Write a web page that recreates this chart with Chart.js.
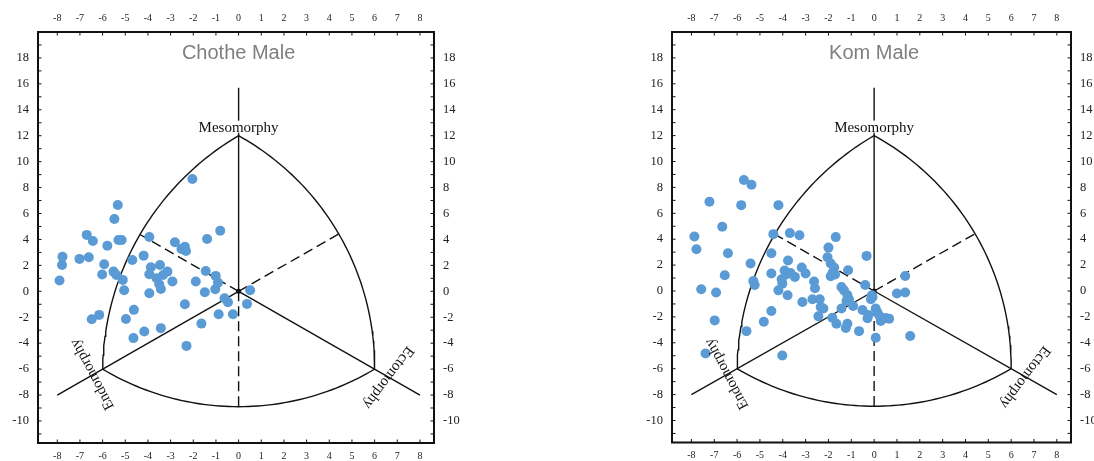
<!DOCTYPE html>
<html lang="en">
<head>
<meta charset="UTF-8">
<title>Somatochart - Chothe and Kom Male</title>
<script src="https://cdn.jsdelivr.net/npm/chart.js@4"></script>
<style>
  body { margin: 0; background: #fff; width: 1094px; height: 461px; overflow: hidden; position: relative; }
  .panel { position: absolute; top: 0; width: 547px; height: 461px; }
  #leftPanel { left: 0; }
  #rightPanel { left: 547px; }
</style>
</head>
<body>
<div class="panel" id="leftPanel"><canvas id="chotheChart" width="547" height="461"></canvas></div>
<div class="panel" id="rightPanel"><canvas id="komChart" width="547" height="461"></canvas></div>
<script>
// tick labels
const xTickLabels = [-8, -7, -6, -5, -4, -3, -2, -1, 0, 1, 2, 3, 4, 5, 6, 7, 8];
const yTickLabels = [-10, -8, -6, -4, -2, 0, 2, 4, 6, 8, 10, 12, 14, 16, 18];

// Chothe male somatoplots (x = ecto - endo, y = 2*meso - endo - ecto)
const chotheX = [-2.04, -5.33, -5.48, -6.70, -6.43, -5.79, -5.30, -5.16, -3.94, -2.81, -2.52, -2.37, -2.32, -1.39, -0.81,
  -7.77, -7.79, -7.90, -7.02, -6.61, -5.93, -6.02, -5.52, -5.39, -5.11, -5.05, -4.69, -4.19, -3.87, -3.47,
  -3.94, -3.62, -3.33, -3.14, -2.92, -3.50, -3.43, -3.94, -1.89, -1.45, -1.01, -0.91, -1.03, -1.49, -0.62,
  -0.47, 0.51, 0.37, -2.37, -0.88, -0.25, -1.64, -6.48, -6.15, -4.97, -4.62, -4.16, -3.43, -4.64, -2.30];
const chotheY = [8.66, 6.66, 5.58, 4.35, 3.88, 3.52, 3.96, 3.96, 4.19, 3.78, 3.27, 3.44, 3.11, 4.04, 4.68,
  2.67, 2.03, 0.83, 2.50, 2.63, 2.09, 1.29, 1.52, 1.26, 0.88, 0.08, 2.42, 2.75, 1.86, 2.03,
  1.32, 1.01, 1.26, 1.52, 0.75, 0.55, 0.18, -0.15, 0.75, 1.57, 1.19, 0.67, 0.16, -0.07, -0.53,
  -0.84, 0.08, -0.97, -1.00, -1.77, -1.77, -2.49, -2.15, -1.82, -2.13, -1.43, -3.10, -2.84, -3.61, -4.21];

// Kom male somatoplots
const komX = [-5.70, -5.37, -7.21, -5.82, -4.19, -6.65, -7.87, -7.78, -6.40, -5.41, -6.54, -7.57, -6.92, -5.29, -5.23,
  -6.98, -5.59, -7.38, -4.02, -4.41, -3.69, -3.27, -4.50, -3.77, -4.50, -3.92, -3.83, -3.66, -3.47, -4.05,
  -4.02, -4.19, -3.79, -3.17, -3.00, -3.14, -2.70, -2.38, -2.34, -2.22, -2.63, -2.59, -4.50, -4.83, -2.44,
  -1.68, -2.00, -2.04, -1.90, -1.75, -1.82, -1.71, -1.90, -1.14, -0.33, -1.43, -1.32, -1.17, -1.10, -1.21,
  -0.92, -1.43, -1.83, -1.65, -1.17, -1.24, -0.66, -0.51, -0.29, -0.25, -0.39, -0.10, -0.14, -0.07, 0.07,
  0.15, 0.25, 0.40, 0.51, 0.66, 0.29, 0.07, 1.36, 1.00, 1.36, 1.58];
const komY = [8.57, 8.20, 6.89, 6.63, 6.63, 4.96, 4.21, 3.23, 2.92, 2.12, 1.22, 0.13, -0.12, 0.77, 0.46,
  -2.27, -3.10, -4.82, -4.98, 4.39, 4.47, 4.31, 2.92, 2.35, 1.35, 1.58, 1.29, 1.39, 1.09, 0.91,
  0.57, 0.05, -0.33, 1.81, 1.35, -0.85, -0.64, -0.64, -1.24, -1.35, 0.73, 0.21, -1.55, -2.37, -1.96,
  4.16, 3.35, 2.61, 2.12, 1.81, 1.40, 1.27, 1.14, 1.60, 2.71, 0.31, 0.05, -0.31, -0.64, -0.77,
  -1.16, -1.35, -2.06, -2.53, -2.53, -2.86, -3.10, -1.47, -2.11, -1.86, 0.46, -0.33, -0.64, -0.46, -1.35,
  -1.69, -1.96, -2.14, -2.08, -2.14, -2.32, -3.61, 1.16, -0.20, -0.12, -3.48];

// somatochart frame (data units)
const mesoVertex = [0, 12], endoVertex = [-6, -6], ectoVertex = [6, -6];
const leftArcMid = [-4.35, 4.38], rightArcMid = [4.42, 4.42], bottomArcMid = [0, -8.9];
const solidAxisEnds = [[0, 15.7], [-8, -8], [8, -8]];

const xRange = [-8.85, 8.62], yRange = [-11.7, 20];
const dotColor = 'rgb(91,155,213)';

// arcs are circular on screen, so fit the circle in a y-squashed space
const SQUASH = 0.57;
function arcThrough(a, m, b, n) {
  const [ax, ay] = [a[0], a[1] * SQUASH], [bx, by] = [m[0], m[1] * SQUASH], [cx, cy] = [b[0], b[1] * SQUASH];
  const d = 2 * (ax * (by - cy) + bx * (cy - ay) + cx * (ay - by));
  const ux = ((ax*ax + ay*ay) * (by - cy) + (bx*bx + by*by) * (cy - ay) + (cx*cx + cy*cy) * (ay - by)) / d;
  const uy = ((ax*ax + ay*ay) * (cx - bx) + (bx*bx + by*by) * (ax - cx) + (cx*cx + cy*cy) * (bx - ax)) / d;
  const r = Math.hypot(ax - ux, ay - uy);
  const norm = t => ((t % (2 * Math.PI)) + 2 * Math.PI) % (2 * Math.PI);
  const t0 = Math.atan2(ay - uy, ax - ux);
  let span = norm(Math.atan2(cy - uy, cx - ux) - t0);
  if (norm(Math.atan2(by - uy, bx - ux) - t0) > span) span -= 2 * Math.PI;
  const pts = [];
  for (let i = 0; i <= n; i++) {
    const t = t0 + span * i / n;
    pts.push({ x: ux + r * Math.cos(t), y: (uy + r * Math.sin(t)) / SQUASH });
  }
  return pts;
}

function lineSet(points, dash) {
  return {
    data: points, showLine: true, pointRadius: 0, borderColor: '#111', borderWidth: 1.4,
    borderDash: dash || [], tension: 0, order: 1
  };
}

const decor = {
  id: 'somatoDecor',
  beforeDatasetsDraw(chart) {
    const { ctx, chartArea: a } = chart;
    ctx.save();
    ctx.strokeStyle = '#111';
    ctx.lineWidth = 1;
    // inward tick marks
    Object.values(chart.scales).forEach(s => {
      s.ticks.forEach(t => {
        const p = s.getPixelForValue(t.value);
        ctx.beginPath();
        if (s.position === 'top') { ctx.moveTo(p, a.top); ctx.lineTo(p, a.top + 3.5); }
        else if (s.position === 'bottom') { ctx.moveTo(p, a.bottom); ctx.lineTo(p, a.bottom - 3.5); }
        else if (s.position === 'left') { ctx.moveTo(a.left, p); ctx.lineTo(a.left + 3.5, p); }
        else { ctx.moveTo(a.right, p); ctx.lineTo(a.right - 3.5, p); }
        ctx.stroke();
      });
    });
    ctx.lineWidth = 2;
    ctx.strokeRect(a.left, a.top, a.right - a.left, a.bottom - a.top);
    ctx.restore();
  },
  afterDatasetsDraw(chart, args, opts) {
    const { ctx, chartArea: a, scales: { x, y } } = chart;
    const px = v => x.getPixelForValue(v), py = v => y.getPixelForValue(v);
    ctx.save();
    ctx.font = '20px "Liberation Sans", Arial, sans-serif';
    ctx.fillStyle = '#7f7f7f';
    ctx.textAlign = 'center';
    ctx.textBaseline = 'alphabetic';
    ctx.fillText(opts.title, px(0), a.top + 27);

    ctx.font = '15px "Liberation Serif", "Times New Roman", serif';
    const w = ctx.measureText('Mesomorphy').width;
    ctx.fillStyle = '#fff';
    ctx.fillRect(px(0) - w / 2 - 1, py(12) - 15, w + 2, 12);
    ctx.fillStyle = '#111';
    ctx.fillText('Mesomorphy', px(0), py(12) - 4);

    ctx.textBaseline = 'middle';
    ctx.save();
    ctx.translate(px(-6.45), py(-6.4));
    ctx.rotate(-118 * Math.PI / 180);
    ctx.fillText('Endomorphy', 0, 0);
    ctx.restore();
    ctx.save();
    ctx.translate(px(6.6), py(-6.65));
    ctx.rotate(127 * Math.PI / 180);
    ctx.fillText('Ectomorphy', 0, 0);
    ctx.restore();
    ctx.restore();
  }
};

function axis(position, range, labels, fontSize, pad, size) {
  const horizontal = position === 'top' || position === 'bottom';
  return {
    type: 'linear', position: position, min: range[0], max: range[1],
    grid: { display: false, drawTicks: false }, border: { display: false },
    ticks: {
      stepSize: 1, includeBounds: false, autoSkip: false, maxRotation: 0, padding: pad,
      color: '#222', font: { family: '"Liberation Serif", "Times New Roman", serif', size: fontSize },
      callback: v => labels.includes(v) ? String(v) : ''
    },
    afterFit: s => { if (horizontal) s.height = size; else s.width = size; }
  };
}

function makeChart(canvasId, title, xs, ys, box) {
  const points = xs.map((v, i) => ({ x: v, y: ys[i] }));
  const datasets = [
    { data: points, pointRadius: 5, pointHoverRadius: 5, backgroundColor: dotColor, borderWidth: 0, order: 0 },
    lineSet(arcThrough(endoVertex, leftArcMid, mesoVertex, 60)),
    lineSet(arcThrough(mesoVertex, rightArcMid, ectoVertex, 60)),
    lineSet(arcThrough(endoVertex, bottomArcMid, ectoVertex, 60))
  ];
  solidAxisEnds.forEach(e => datasets.push(lineSet([{ x: 0, y: 0 }, { x: e[0], y: e[1] }])));
  [leftArcMid, rightArcMid, bottomArcMid].forEach(e => datasets.push(lineSet([{ x: 0, y: 0 }, { x: e[0], y: e[1] }], [10, 5])));
  datasets.push({ data: [{ x: 0, y: 0 }], pointRadius: 2.5, backgroundColor: '#111', borderWidth: 0, order: 0 });

  return new Chart(document.getElementById(canvasId), {
    type: 'scatter',
    data: { datasets: datasets },
    options: {
      responsive: false,
      animation: false,
      layout: { padding: 0 },
      scales: {
        x: axis('bottom', xRange, xTickLabels, 10, 7, box.bottom),
        x2: axis('top', xRange, xTickLabels, 10, 8, box.top),
        y: axis('left', yRange, yTickLabels, 12.5, 9, box.left),
        y2: axis('right', yRange, yTickLabels, 12.5, 9, box.right)
      },
      plugins: { legend: { display: false }, tooltip: { enabled: false }, somatoDecor: { title: title } }
    },
    plugins: [decor]
  });
}

makeChart('chotheChart', 'Chothe Male', chotheX, chotheY, { left: 38, right: 113, top: 32, bottom: 18 });
makeChart('komChart', 'Kom Male', komX, komY, { left: 125, right: 23, top: 32, bottom: 18.5 });
</script>
</body>
</html>
